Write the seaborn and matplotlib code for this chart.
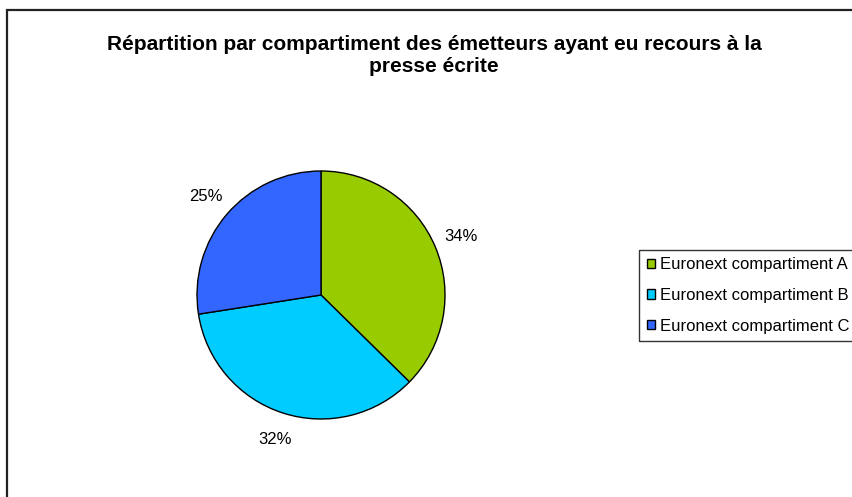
import matplotlib.pyplot as plt
import matplotlib.patches as mpatches
import seaborn as sns

categories = ["Euronext compartiment A", "Euronext compartiment B", "Euronext compartiment C"]
values = [34, 32, 25]
pct_labels = ["34%", "32%", "25%"]
colors = ["#99cc00", "#00ccff", "#3366ff"]

sns.set_theme(style="white")
plt.rcParams['font.family'] = ['Liberation Sans', 'DejaVu Sans']
plt.rcParams['text.color'] = 'black'

W, H = 852, 497
fig = plt.figure(figsize=(W / 100, H / 100), dpi=100)

# outer chart frame (right and bottom edges cut off in the original)
frame = mpatches.Rectangle((7 / W, -0.1), 1.2, 1 - 10 / H + 0.1, transform=fig.transFigure,
                           fill=False, edgecolor="#222222", linewidth=1.6)
fig.patches.append(frame)

fig.text(434 / W, 1 - 44 / H, "Répartition par compartiment des émetteurs ayant eu recours à la",
         ha="center", va="center", fontsize=15, fontweight="bold")
fig.text(434 / W, 1 - 67 / H, "presse écrite",
         ha="center", va="center", fontsize=15, fontweight="bold")

# pie axes: centre (321, 295), radius 124 px
ax = fig.add_axes([197 / W, (H - 419) / H, 248 / W, 248 / H])
wedges, texts = ax.pie(values, labels=pct_labels, colors=colors, startangle=90, counterclock=False,
                       labeldistance=1.22, wedgeprops={"edgecolor": "black", "linewidth": 1.0},
                       textprops={"fontsize": 12, "color": "black"})
for t in texts:
    t.set_ha("center")
    t.set_va("center")
ax.set_xlim(-1, 1)
ax.set_ylim(-1, 1)
ax.axis("off")

handles = [mpatches.Patch(facecolor=c, edgecolor="black", linewidth=1.0) for c in colors]
leg = fig.legend(handles, categories, loc="upper left", bbox_to_anchor=(639 / W, 1 - 250 / H),
                 frameon=True, fancybox=False, fontsize=12, handlelength=0.5, handleheight=0.5,
                 handletextpad=0.3, labelspacing=0.93, borderpad=0.45, borderaxespad=0)
leg.get_frame().set_edgecolor("black")
leg.get_frame().set_linewidth(1.0)

fig.savefig("out.png", dpi=100)
